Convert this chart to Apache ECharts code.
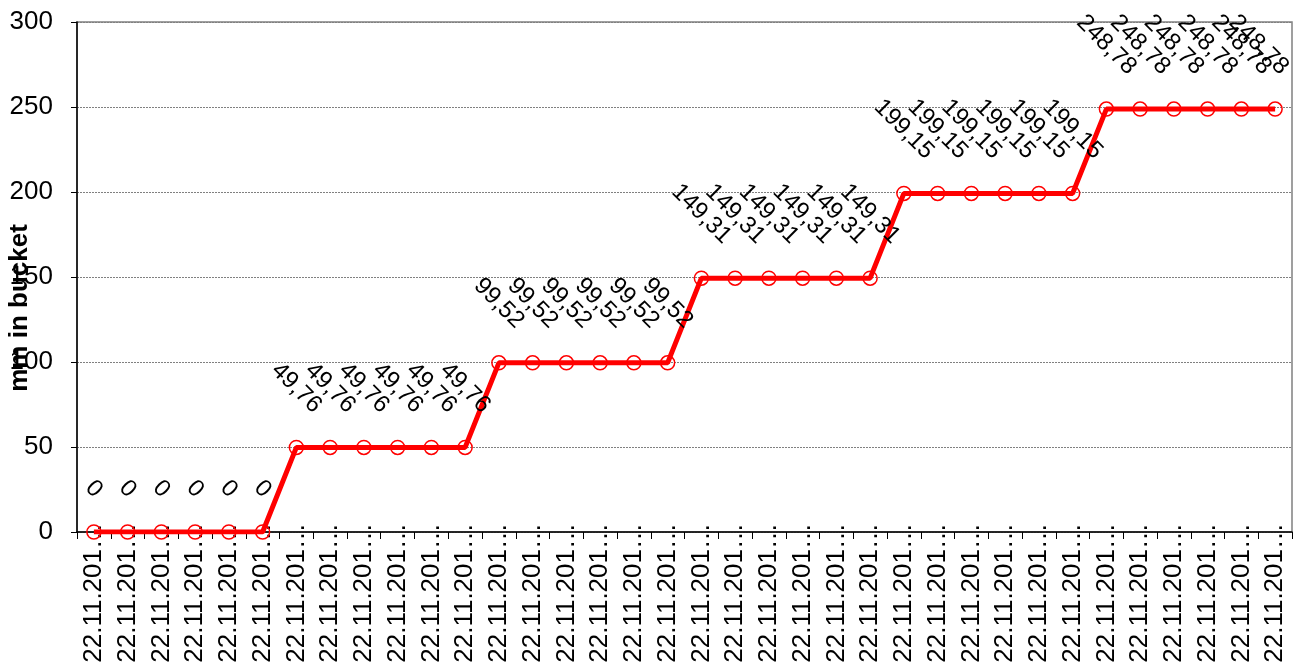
<!DOCTYPE html>
<html>
<head>
<meta charset="utf-8">
<script src="https://cdn.jsdelivr.net/npm/echarts@6/dist/echarts.min.js"></script>
<style>
  html, body { margin: 0; padding: 0; background: #fff; }
  #chart { width: 1299px; height: 671px; }
</style>
</head>
<body>
<div id="chart"></div>
<script>
// Time stamps of each reading (shown truncated on the axis)
const timeLabels = [
  '22.11.201…', '22.11.201…', '22.11.201…', '22.11.201…', '22.11.201…', '22.11.201…',
  '22.11.201…', '22.11.201…', '22.11.201…', '22.11.201…', '22.11.201…', '22.11.201…',
  '22.11.201…', '22.11.201…', '22.11.201…', '22.11.201…', '22.11.201…', '22.11.201…',
  '22.11.201…', '22.11.201…', '22.11.201…', '22.11.201…', '22.11.201…', '22.11.201…',
  '22.11.201…', '22.11.201…', '22.11.201…', '22.11.201…', '22.11.201…', '22.11.201…',
  '22.11.201…', '22.11.201…', '22.11.201…', '22.11.201…', '22.11.201…', '22.11.201…'
];

// Accumulated precipitation in the bucket, mm
const bucketMm = [
  0, 0, 0, 0, 0, 0,
  49.76, 49.76, 49.76, 49.76, 49.76, 49.76,
  99.52, 99.52, 99.52, 99.52, 99.52, 99.52,
  149.31, 149.31, 149.31, 149.31, 149.31, 149.31,
  199.15, 199.15, 199.15, 199.15, 199.15, 199.15,
  248.78, 248.78, 248.78, 248.78, 248.78, 248.78
];

const yTicks = { min: 0, max: 300, interval: 50 };

const FONT = 'Arial, "Liberation Sans", sans-serif';
const W = 1299;
const LABEL_ROTATE = -45;

// Label offsets are applied in the label's rotated frame; convert a
// screen-space shift (sx, sy) into that frame.
function toLabelFrame(sx, sy) {
  const r = LABEL_ROTATE * Math.PI / 180;
  return {
    dx: sx * Math.cos(r) - sy * Math.sin(r),
    dy: sx * Math.sin(r) + sy * Math.cos(r)
  };
}

const chart = echarts.init(document.getElementById('chart'), null, { renderer: 'canvas' });

chart.setOption({
  animation: false,
  backgroundColor: '#ffffff',
  grid: {
    left: 77, right: 7, top: 22, bottom: 139,
    containLabel: false,
    outerBoundsMode: 'none',
    show: true,
    borderColor: '#808080',
    borderWidth: 1.5
  },
  xAxis: {
    type: 'category',
    data: timeLabels,
    boundaryGap: true,
    axisLine: { lineStyle: { color: '#000', width: 1.5 } },
    axisTick: { show: true, length: 7, lineStyle: { color: '#000', width: 1 } },
    axisLabel: {
      interval: 0,
      rotate: 90,
      margin: -9,
      color: '#000',
      fontFamily: FONT,
      fontSize: 26
    },
    splitLine: { show: false }
  },
  yAxis: {
    type: 'value',
    min: yTicks.min,
    max: yTicks.max,
    interval: yTicks.interval,
    name: 'mm in bucket',
    nameLocation: 'middle',
    nameGap: 44,
    nameMoveOverlap: false,
    nameTextStyle: {
      color: '#000',
      fontFamily: FONT,
      fontSize: 26,
      fontWeight: 'bold',
      padding: [0, 62, 0, 0]
    },
    axisLine: { show: true, lineStyle: { color: '#000', width: 1.5 } },
    axisTick: { show: true, length: 6, lineStyle: { color: '#000', width: 1 } },
    axisLabel: {
      margin: 24,
      color: '#000',
      fontFamily: FONT,
      fontSize: 26
    },
    splitLine: {
      show: true,
      lineStyle: { color: '#808080', width: 1, type: [2, 1] }
    }
  },
  series: [{
    type: 'line',
    data: bucketMm,
    symbol: 'circle',
    symbolSize: 14,
    lineStyle: { color: '#ff0000', width: 5 },
    itemStyle: { color: 'rgba(0,0,0,0)', borderColor: '#ff0000', borderWidth: 1.5 },
    emphasis: { disabled: true },
    z: 3,
    label: {
      show: true,
      position: 'top',
      distance: 0,
      rotate: LABEL_ROTATE,
      align: 'center',
      verticalAlign: 'middle',
      color: '#000',
      fontFamily: FONT,
      fontSize: 24,
      formatter: p => String(p.value).replace('.', ',')
    },
    labelLayout: function (params) {
      const r = params.labelRect;
      // lift the label so its rotated box sits clear above the marker
      const sy = -(r.height / 2 + 22);
      // keep labels inside the chart on the right edge
      let sx = 0;
      const limit = W - 6;
      if (r.x + r.width > limit) sx = limit - (r.x + r.width);
      return toLabelFrame(sx, sy);
    }
  }]
});
</script>
</body>
</html>
